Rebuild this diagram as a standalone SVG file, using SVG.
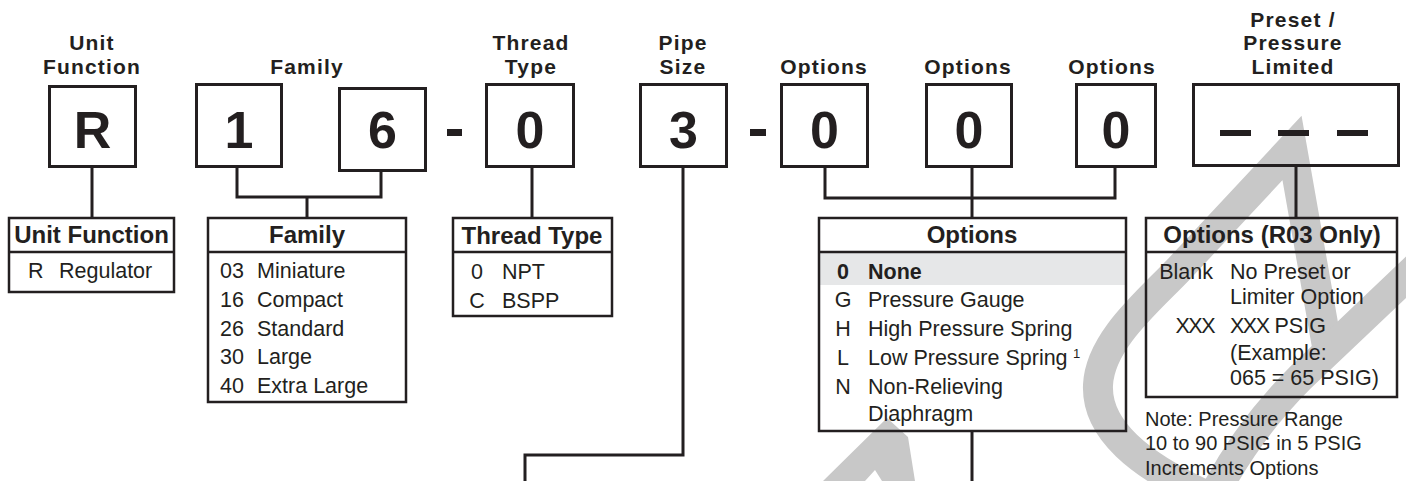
<svg xmlns="http://www.w3.org/2000/svg" width="1406" height="481" viewBox="0 0 1406 481">
<style>
  text { font-family: "Liberation Sans", Arial, Helvetica, sans-serif; fill: #231f20; }
  .lbl { font-size: 21px; font-weight: bold; text-anchor: middle; letter-spacing: 1.2px; }
  .big { font-size: 52px; font-weight: bold; text-anchor: middle; }
  .th { font-size: 24px; font-weight: bold; text-anchor: middle; }
  .td { font-size: 21.5px; }
  .mid { text-anchor: middle; }
  .end { text-anchor: end; }
  .b { font-weight: bold; }
  .note { font-size: 20px; }
  .box { fill: none; stroke: #231f20; stroke-width: 3; }
  .tbl { fill: none; stroke: #231f20; stroke-width: 2.5; }
  .dash { fill: #231f20; }
  .wm { fill: none; stroke: #c8c8c8; stroke-width: 30; stroke-linejoin: miter; stroke-miterlimit: 6; }
  .con { fill: none; stroke: #231f20; stroke-width: 3; }
</style>

<g id="watermark">
  <path class="wm" d="M 1205,495 C 1140,465 1096,430 1098,385 C 1100,340 1150,300 1180,268 L 1292,148 L 1328,352"/>
  <path class="wm" d="M 1422,262 L 1300,378 C 1270,408 1240,445 1214,495"/>
  <polygon fill="#c8c8c8" points="823,481 887,418 908,437 915,481 882,481 875,470 865,481"/>
</g>

<g id="headers">
  <text class="lbl" x="92" y="50">Unit</text>
  <text class="lbl" x="92" y="73.5">Function</text>
  <text class="lbl" x="307" y="73.5">Family</text>
  <text class="lbl" x="531" y="50">Thread</text>
  <text class="lbl" x="531" y="73.5">Type</text>
  <text class="lbl" x="683" y="50">Pipe</text>
  <text class="lbl" x="683" y="73.5">Size</text>
  <text class="lbl" x="824" y="73.5">Options</text>
  <text class="lbl" x="968" y="73.5">Options</text>
  <text class="lbl" x="1112" y="73.5">Options</text>
  <text class="lbl" x="1293" y="26.5">Preset /</text>
  <text class="lbl" x="1293" y="50">Pressure</text>
  <text class="lbl" x="1293" y="73.5">Limited</text>
</g>

<g id="connectors">
  <path class="con" d="M92,168 V218"/>
  <path class="con" d="M237,168 V197 H381 V172"/>
  <path class="con" d="M307,197 V218"/>
  <path class="con" d="M532,168 V218"/>
  <path class="con" d="M683,168 V455 H525 V481"/>
  <path class="con" d="M825,168 V198 H1115 V168"/>
  <path class="con" d="M972,168 V218"/>
  <path class="con" d="M972,432 V481"/>
  <path class="con" d="M1296,167 V218"/>
</g>

<g id="box-r"><rect class="box" x="49.5" y="86.5" width="86" height="80"/><text class="big" x="92.5" y="148">R</text></g>
<g id="box-1"><rect class="box" x="196.5" y="84.5" width="85" height="82"/><text class="big" x="239" y="148">1</text></g>
<g id="box-6"><rect class="box" x="339.5" y="88.5" width="86" height="82"/><text class="big" x="382.5" y="148">6</text></g>
<g id="dash-1"><rect class="dash" x="447" y="129" width="15" height="7"/></g>
<g id="box-thread"><rect class="box" x="486.5" y="84.5" width="87" height="82"/><text class="big" x="530" y="148">0</text></g>
<g id="box-pipe"><rect class="box" x="640.5" y="84.5" width="86" height="82"/><text class="big" x="683.5" y="148">3</text></g>
<g id="dash-2"><rect class="dash" x="750" y="129" width="16" height="7"/></g>
<g id="box-opt1"><rect class="box" x="781.5" y="84.5" width="86" height="82"/><text class="big" x="824.5" y="148">0</text></g>
<g id="box-opt2"><rect class="box" x="926.5" y="84.5" width="85" height="82"/><text class="big" x="969" y="148">0</text></g>
<g id="box-opt3"><rect class="box" x="1076.5" y="84.5" width="79" height="82"/><text class="big" x="1116" y="148">0</text></g>
<g id="box-preset">
  <rect class="box" x="1193.5" y="84.5" width="205" height="81"/>
  <rect class="dash" x="1220" y="130" width="31" height="6"/>
  <rect class="dash" x="1278" y="130" width="31" height="6"/>
  <rect class="dash" x="1337" y="130" width="31" height="6"/>
</g>

<g id="table-unit">
  <rect class="tbl" x="9" y="218" width="165" height="74"/>
  <line class="tbl" x1="9" y1="252" x2="174" y2="252"/>
  <text class="th" x="91.5" y="243">Unit Function</text>
  <text class="td" x="28" y="278">R</text>
  <text class="td" x="59" y="278">Regulator</text>
</g>

<g id="table-family">
  <rect class="tbl" x="208" y="218" width="198" height="184"/>
  <line class="tbl" x1="208" y1="252" x2="406" y2="252"/>
  <text class="th" x="307" y="243">Family</text>
  <text class="td" x="220" y="278">03</text><text class="td" x="257" y="278">Miniature</text>
  <text class="td" x="220" y="307">16</text><text class="td" x="257" y="307">Compact</text>
  <text class="td" x="220" y="336">26</text><text class="td" x="257" y="336">Standard</text>
  <text class="td" x="220" y="364">30</text><text class="td" x="257" y="364">Large</text>
  <text class="td" x="220" y="393">40</text><text class="td" x="257" y="393">Extra Large</text>
</g>

<g id="table-thread">
  <rect class="tbl" x="453" y="218" width="159" height="98"/>
  <line class="tbl" x1="453" y1="252" x2="612" y2="252"/>
  <text class="th" x="532" y="244">Thread Type</text>
  <text class="td mid" x="477" y="279">0</text><text class="td" x="502" y="279">NPT</text>
  <text class="td mid" x="477" y="308">C</text><text class="td" x="502" y="308">BSPP</text>
</g>

<g id="table-options">
  <rect x="820" y="253" width="305" height="32" fill="#e6e7e8"/>
  <rect class="tbl" x="819" y="218" width="307" height="213"/>
  <line class="tbl" x1="819" y1="252" x2="1126" y2="252"/>
  <text class="th" x="972" y="243">Options</text>
  <text class="td mid b" x="843" y="279">0</text><text class="td b" x="868" y="279">None</text>
  <text class="td mid" x="843" y="307">G</text><text class="td" x="868" y="307">Pressure Gauge</text>
  <text class="td mid" x="843" y="336">H</text><text class="td" x="868" y="336">High Pressure Spring</text>
  <text class="td mid" x="843" y="365">L</text><text class="td" x="868" y="365">Low Pressure Spring</text>
  <text x="1073" y="358" font-size="13">1</text>
  <text class="td mid" x="843" y="394">N</text><text class="td" x="868" y="394">Non-Relieving</text>
  <text class="td" x="868" y="421">Diaphragm</text>
</g>

<g id="table-r03">
  <rect class="tbl" x="1146" y="218" width="251" height="179"/>
  <line class="tbl" x1="1146" y1="252" x2="1397" y2="252"/>
  <text class="th" x="1272" y="243">Options (R03 Only)</text>
  <text class="td end" x="1213" y="279">Blank</text><text class="td" x="1230" y="279">No Preset or</text>
  <text class="td" x="1230" y="304">Limiter Option</text>
  <text class="td end" x="1214" y="333" letter-spacing="-1.5">XXX</text><text class="td" x="1230" y="333"><tspan letter-spacing="-1.5">XXX</tspan> PSIG</text>
  <text class="td" x="1230" y="360">(Example:</text>
  <text class="td" x="1230" y="385">065 = 65 PSIG)</text>
</g>

<g id="note">
  <text class="note" x="1145" y="426">Note: Pressure Range</text>
  <text class="note" x="1145" y="450">10 to 90 PSIG in 5 PSIG</text>
  <text class="note" x="1145" y="475">Increments Options</text>
</g>
</svg>
